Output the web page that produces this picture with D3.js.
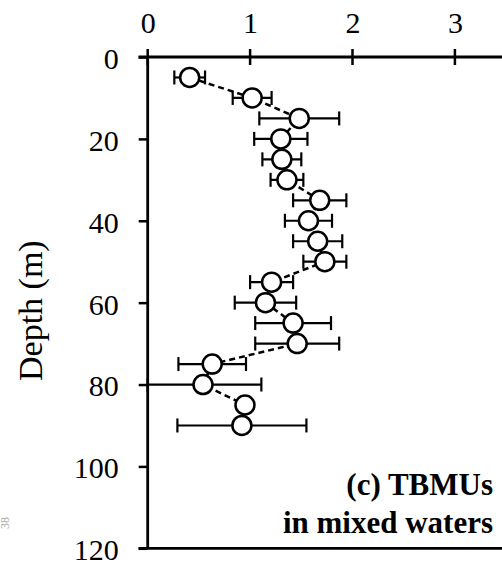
<!DOCTYPE html>
<html>
<head>
<meta charset="utf-8">
<script src="https://d3js.org/d3.v7.min.js"></script>
<style>
    html, body { margin: 0; padding: 0; background: #fff; overflow: hidden; }
    svg { display: block; }
    svg text { font-family: "Liberation Serif", "Times New Roman", serif; }
</style>
</head>
<body>
<div id="chart"></div>
<script>
const depths = [5, 10, 15, 20, 25, 30, 35, 40, 45, 50, 55, 60, 65, 70, 75, 80, 85, 90];
const values = [0.41, 1.02, 1.48, 1.30, 1.31, 1.36, 1.68, 1.57, 1.66, 1.73, 1.21, 1.15, 1.42, 1.46, 0.63, 0.54, 0.95, 0.92];
const errors = [0.15, 0.19, 0.39, 0.26, 0.19, 0.16, 0.26, 0.23, 0.24, 0.21, 0.21, 0.30, 0.37, 0.41, 0.33, 0.57, 0.03, 0.63];
const xTicks = [0, 1, 2, 3];
const yTicks = [0, 20, 40, 60, 80, 100, 120];
const labelLines = ['(c) TBMUs', 'in mixed waters'];

document.addEventListener('DOMContentLoaded', () => {
    renderChart();
});

function renderChart() {
    const width = 502;
    const height = 563;
    const serif = '"Liberation Serif", "Times New Roman", serif';

    const svg = d3.select('#chart')
        .append('svg')
        .attr('width', width)
        .attr('height', height);

    const x = d3.scaleLinear().domain([0, 3.5]).range([147.7, 506.1]);
    const y = d3.scaleLinear().domain([0, 120]).range([57, 548.3]);

    const rows = depths.map((d, i) => ({ depth: d, value: values[i], err: errors[i] }));

    // top axis (values)
    const xAxis = svg.append('g')
        .attr('transform', `translate(0, ${y(0)})`)
        .call(d3.axisTop(x).tickValues(xTicks).tickSize(0).tickPadding(24).tickFormat(d3.format('d')));
    xAxis.attr('font-family', serif).attr('font-size', 30);
    xAxis.select('.domain').remove();
    xAxis.selectAll('text').attr('fill', '#000');

    svg.append('line')
        .attr('x1', 138.5).attr('x2', width)
        .attr('y1', y(0)).attr('y2', y(0))
        .attr('stroke', '#000').attr('stroke-width', 2.8);

    svg.selectAll('.x-tick')
        .data(xTicks)
        .enter()
        .append('line')
        .attr('x1', d => x(d)).attr('x2', d => x(d))
        .attr('y1', y(0) - 8).attr('y2', y(0) + 8)
        .attr('stroke', '#000').attr('stroke-width', 2.5);

    // left axis (depth)
    const yAxis = svg.append('g')
        .attr('transform', `translate(${x(0)}, 0)`)
        .call(d3.axisLeft(y).tickValues(yTicks).tickSize(9).tickPadding(20));
    yAxis.attr('font-family', serif).attr('font-size', 30);
    yAxis.select('.domain').remove();
    yAxis.selectAll('line').attr('stroke', '#000').attr('stroke-width', 2.5);
    yAxis.selectAll('text').attr('fill', '#000').attr('dy', '0.38em');

    svg.append('line')
        .attr('x1', x(0)).attr('x2', x(0))
        .attr('y1', y(0)).attr('y2', y(120))
        .attr('stroke', '#000').attr('stroke-width', 2.8);

    svg.append('line')
        .attr('x1', 138.5).attr('x2', width)
        .attr('y1', y(120)).attr('y2', y(120))
        .attr('stroke', '#000').attr('stroke-width', 2.8);

    svg.append('text')
        .attr('transform', `translate(42, ${(y(0) + y(120)) / 2 + 8}) rotate(-90)`)
        .attr('text-anchor', 'middle')
        .attr('font-size', '34px')
        .attr('fill', '#000')
        .text('Depth (m)');

    // dashed profile line
    const line = d3.line()
        .x(d => x(d.value))
        .y(d => y(d.depth));

    svg.append('path')
        .datum(rows)
        .attr('d', line)
        .attr('fill', 'none')
        .attr('stroke', '#000')
        .attr('stroke-width', 2.5)
        .attr('stroke-dasharray', '6,4');

    // error bars
    const bars = svg.selectAll('.err')
        .data(rows)
        .enter()
        .append('g')
        .attr('class', 'err');

    bars.append('line')
        .attr('x1', d => x(Math.max(0, d.value - d.err)))
        .attr('x2', d => x(d.value + d.err))
        .attr('y1', d => y(d.depth)).attr('y2', d => y(d.depth))
        .attr('stroke', '#000').attr('stroke-width', 2.2);

    bars.append('line')
        .attr('x1', d => x(Math.max(0, d.value - d.err)))
        .attr('x2', d => x(Math.max(0, d.value - d.err)))
        .attr('y1', d => y(d.depth) - 7).attr('y2', d => y(d.depth) + 7)
        .attr('stroke', '#000').attr('stroke-width', 2.2);

    bars.append('line')
        .attr('x1', d => x(d.value + d.err))
        .attr('x2', d => x(d.value + d.err))
        .attr('y1', d => y(d.depth) - 7).attr('y2', d => y(d.depth) + 7)
        .attr('stroke', '#000').attr('stroke-width', 2.2);

    // markers
    svg.selectAll('.pt')
        .data(rows)
        .enter()
        .append('circle')
        .attr('class', 'pt')
        .attr('cx', d => x(d.value))
        .attr('cy', d => y(d.depth))
        .attr('r', 9.5)
        .attr('fill', '#fff')
        .attr('stroke', '#000')
        .attr('stroke-width', 2.5);

    // panel label
    svg.append('text')
        .attr('x', 493)
        .attr('y', 495)
        .attr('text-anchor', 'end')
        .attr('font-size', '31px')
        .attr('font-weight', 'bold')
        .attr('fill', '#000')
        .selectAll('tspan')
        .data(labelLines)
        .enter()
        .append('tspan')
        .attr('x', 493)
        .attr('dy', (d, i) => i === 0 ? 0 : 38)
        .text(d => d);

    // faint margin mark at the left edge
    svg.append('text')
        .attr('transform', 'translate(9, 523) rotate(-90)')
        .attr('text-anchor', 'middle')
        .attr('font-size', '12px')
        .attr('fill', '#aaa')
        .text('38');
}
</script>
</body>
</html>
